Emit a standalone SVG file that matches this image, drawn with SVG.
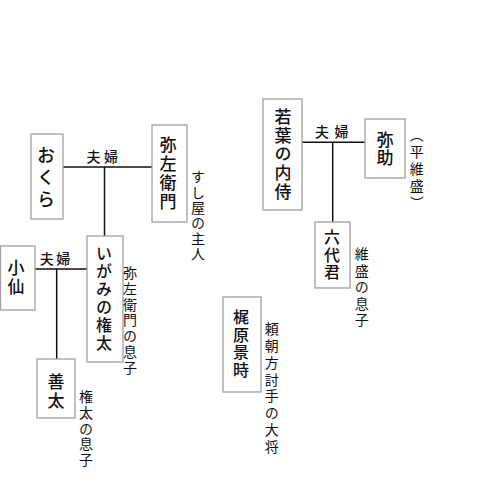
<svg xmlns="http://www.w3.org/2000/svg" width="480" height="495" viewBox="0 0 480 495">
<style>
.box{fill:#fff;stroke:#a0a0a0;stroke-width:1.3}
.ln{stroke:#111;stroke-width:1.5;fill:none}
.nm{font-family:"Noto Sans CJK JP","Noto Sans CJK SC",sans-serif;fill:#111;writing-mode:vertical-rl;font-weight:500}
.nt{font-family:"Noto Sans CJK JP","Noto Sans CJK SC",sans-serif;fill:#111;writing-mode:vertical-rl;font-size:14px}
.fl{font-family:"Noto Sans CJK JP","Noto Sans CJK SC",sans-serif;fill:#111;font-size:14px;text-anchor:middle;font-weight:500}
</style>
<rect width="480" height="495" fill="#fff"/>
<g id="connectors">
<path class="ln" d="M63 167H152M104.5 167V236"/>
<path class="ln" d="M35 269H87M56.7 269V359"/>
<path class="ln" d="M302 142.3H365M332.7 142.3V222"/>
<text class="fl" x="93.5 111" y="162">夫婦</text>
<text class="fl" x="46.7 63.3" y="264">夫婦</text>
<text class="fl" x="322 341.5" y="137">夫婦</text>
</g>
<g id="okura">
<rect class="box" x="31" y="134" width="32" height="85"/>
<text class="nm" x="46" y="146" font-size="18" letter-spacing="4">おくら</text>
</g>
<g id="yazaemon">
<rect class="box" x="152" y="125" width="35" height="97"/>
<text class="nm" x="168" y="136" font-size="17" letter-spacing="2">弥左衛門</text>
<text class="nt" x="198" y="170" letter-spacing="1.3">すし屋の主人</text>
</g>
<g id="kosen">
<rect class="box" x="0.5" y="246" width="34.5" height="64"/>
<text class="nm" x="16" y="259" font-size="17" letter-spacing="2">小仙</text>
</g>
<g id="igami">
<rect class="box" x="87" y="236" width="36" height="126"/>
<text class="nm" x="104" y="245" font-size="16" letter-spacing="2">いがみの権太</text>
<text class="nt" x="130" y="266" letter-spacing="1.7">弥左衛門の息子</text>
</g>
<g id="zenta">
<rect class="box" x="37" y="359" width="38" height="59"/>
<text class="nm" x="56" y="373" font-size="17" letter-spacing="2">善太</text>
<text class="nt" x="86" y="390" letter-spacing="1.6">権太の息子</text>
</g>
<g id="wakaba">
<rect class="box" x="263" y="99" width="39" height="111"/>
<text class="nm" x="283" y="108" font-size="17" letter-spacing="1.7">若葉の内侍</text>
</g>
<g id="yasuke">
<rect class="box" x="365" y="119" width="40" height="59"/>
<text class="nm" x="385" y="131" font-size="17" letter-spacing="1.5">弥助</text>
<text class="nt" x="416.7" y="127.5" font-size="15" letter-spacing="3">（平維盛）</text>
</g>
<g id="rokudai">
<rect class="box" x="315" y="222" width="35" height="66"/>
<text class="nm" x="332" y="229" font-size="16" letter-spacing="1.5">六代君</text>
<text class="nt" x="361.7" y="247" font-size="15" letter-spacing="2.4">維盛の息子</text>
</g>
<g id="kajiwara">
<rect class="box" x="223" y="297" width="38" height="95"/>
<text class="nm" x="241" y="309" font-size="16" letter-spacing="1.5">梶原景時</text>
<text class="nt" x="271.7" y="322" font-size="15" letter-spacing="2.75">頼朝方討手の大将</text>
</g>
</svg>
